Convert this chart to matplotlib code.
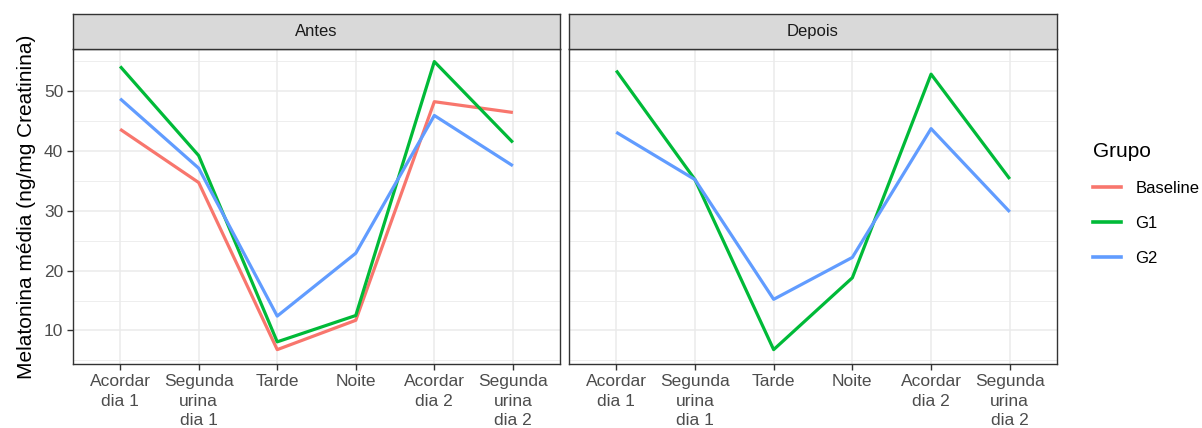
import matplotlib.pyplot as plt
from matplotlib.lines import Line2D
from matplotlib.ticker import MultipleLocator

plt.rcParams['font.family'] = ['Liberation Sans', 'DejaVu Sans']

# ---- data ----
momentos = ["Acordar\ndia 1", "Segunda\nurina\ndia 1", "Tarde", "Noite",
            "Acordar\ndia 2", "Segunda\nurina\ndia 2"]
grupos = ["Baseline", "G1", "G2"]
cores = {"Baseline": "#F8766D", "G1": "#00BA38", "G2": "#619CFF"}

antes_baseline = [43.6, 34.7, 6.8, 11.7, 48.2, 46.4]
antes_g1 = [54.1, 39.2, 8.1, 12.5, 54.9, 41.4]
antes_g2 = [48.7, 37.1, 12.4, 22.9, 45.9, 37.5]

depois_g1 = [53.4, 35.2, 6.8, 18.8, 52.8, 35.3]
depois_g2 = [43.1, 35.2, 15.2, 22.2, 43.7, 29.8]

paineis = [
    ("Antes", {"Baseline": antes_baseline, "G1": antes_g1, "G2": antes_g2}),
    ("Depois", {"G1": depois_g1, "G2": depois_g2}),
]

# ---- figure ----
W, H = 1202, 428
fig = plt.figure(figsize=(W / 100, H / 100), dpi=100)

def frac(x0, x1, ytop, ybot):
    return [x0 / W, (H - ybot) / H, (x1 - x0) / W, (ybot - ytop) / H]

posicoes = [(73, 560), (569, 1057)]
ymin, ymax = 4.4, 57.0
x = list(range(len(momentos)))

axes = []
for (titulo, series), (x0, x1) in zip(paineis, posicoes):
    ax = fig.add_axes(frac(x0, x1, 49, 364))
    ax.set_facecolor("white")
    for g in grupos:
        if g in series:
            ax.plot(x, series[g], color=cores[g], lw=2.3, solid_capstyle="butt")
    ax.set_xlim(-0.6, len(momentos) - 1 + 0.6)
    ax.set_ylim(ymin, ymax)
    ax.yaxis.set_major_locator(MultipleLocator(10))
    ax.yaxis.set_minor_locator(MultipleLocator(5))
    ax.grid(which="major", color="#EBEBEB", lw=1.1)
    ax.grid(which="minor", axis="y", color="#EBEBEB", lw=0.6)
    ax.set_axisbelow(True)
    ax.set_xticks(x)
    ax.set_xticklabels(momentos, fontsize=12.5, color="#4D4D4D", linespacing=1.4, va="top")
    ax.tick_params(axis="both", which="major", length=4, width=1, color="#333333", pad=3)
    ax.tick_params(axis="y", which="minor", length=0)
    for s in ax.spines.values():
        s.set_color("#333333")
        s.set_linewidth(1)
    # faixa do título do painel
    strip = fig.add_axes(frac(x0, x1, 14, 49))
    strip.set_xticks([])
    strip.set_yticks([])
    strip.set_facecolor("#D9D9D9")
    for s in strip.spines.values():
        s.set_color("#333333")
        s.set_linewidth(1)
    strip.text(0.5, 0.5, titulo, ha="center", va="center", fontsize=12, color="#1A1A1A",
               transform=strip.transAxes)
    axes.append(ax)

axes[0].tick_params(axis="y", labelsize=12.5, labelcolor="#4D4D4D")
axes[1].tick_params(axis="y", labelleft=False, length=0)
axes[0].set_ylabel("Melatonina média (ng/mg Creatinina)", fontsize=15, color="black", labelpad=6)

handles = [Line2D([], [], color=cores[g], lw=2.6) for g in grupos]
fig.legend(handles, grupos, title="Grupo", loc="upper left", bbox_to_anchor=(1078 / W, (H - 127) / H),
           frameon=False, fontsize=12, title_fontsize=15, handlelength=1.7,
           labelspacing=1.2, handletextpad=0.85, alignment="left")

fig.savefig("out.png", dpi=100)
